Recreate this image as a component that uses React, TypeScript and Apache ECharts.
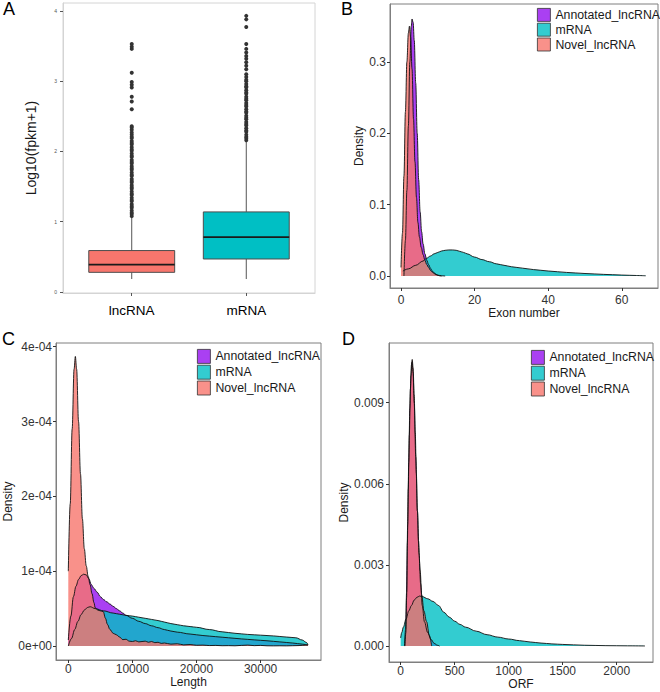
import React, { useEffect, useRef } from 'react';
import * as echarts from 'echarts';

// ---------- DATA ----------
const BOX_CATEGORIES = ['lncRNA', 'mRNA'];
// [lower whisker, Q1, median, Q3, upper whisker]
const BOX_STATS = [
  [0.185, 0.28, 0.39, 0.59, 1.07],
  [0.185, 0.47, 0.78, 1.14, 2.15],
];
const LNC_OUTLIERS = [
  1.08, 1.11, 1.13, 1.16, 1.2, 1.22, 1.25, 1.29, 1.31, 1.34, 1.38, 1.4, 1.43, 1.47, 1.49, 1.52,
  1.56, 1.58, 1.61, 1.65, 1.67, 1.7, 1.74, 1.76, 1.79, 1.83, 1.85, 1.88, 1.92, 1.94, 1.97, 2.01,
  2.03, 2.06, 2.1, 2.12, 2.15, 2.19, 2.21, 2.24, 2.27, 2.31, 2.34, 2.36,
  2.6, 2.71, 2.78, 2.91, 2.95, 2.99, 3.12, 3.46, 3.49, 3.53,
];
const MRNA_OUTLIERS = [
  2.16, 2.19, 2.21, 2.24, 2.28, 2.3, 2.33, 2.37, 2.39, 2.42, 2.46, 2.48, 2.51, 2.55, 2.57, 2.6,
  2.64, 2.66, 2.69, 2.73, 2.75, 2.78, 2.82, 2.84, 2.87, 2.91, 2.93, 2.96, 3.0, 3.02,
  3.06, 3.1, 3.17, 3.22, 3.27, 3.32, 3.36, 3.41, 3.46, 3.53, 3.77, 3.88, 3.93,
];
const A_Y_TICKS = [0, 1, 2, 3, 4];

const GROUPS = ['Annotated_lncRNA', 'mRNA', 'Novel_lncRNA'];

// Panel B: Exon number densities
const EXON_ANNOTATED = [
  [0.8, 0], [1.2, 0.05], [1.6, 0.12], [2.0, 0.21], [2.4, 0.3], [2.8, 0.35], [3.0, 0.36], [3.3, 0.355],
  [3.6, 0.33], [4.0, 0.27], [4.4, 0.2], [4.8, 0.135], [5.2, 0.09], [5.6, 0.062], [6.0, 0.045],
  [6.5, 0.031], [7.0, 0.022], [7.5, 0.016], [8.0, 0.011], [8.5, 0.007], [9.0, 0.0045], [9.5, 0.0025],
  [10, 0.0012], [11, 0.0003], [12, 0],
];
const EXON_MRNA = [
  [0.5, 0.007], [2, 0.01], [4, 0.015], [6, 0.021], [7, 0.025], [8, 0.028], [9, 0.031], [10, 0.033],
  [11, 0.035], [12, 0.036], [13, 0.0365], [14, 0.0365], [15, 0.036], [16, 0.0345], [17, 0.033],
  [18, 0.031], [20, 0.0265], [22, 0.023], [24, 0.02], [26, 0.017], [28, 0.015], [30, 0.013],
  [33, 0.011], [36, 0.009], [40, 0.007], [45, 0.005], [50, 0.0035], [55, 0.0023], [60, 0.0013],
  [64, 0.0007], [66.5, 0.0003],
];
const EXON_NOVEL = [
  [0, 0.012], [0.4, 0.06], [0.8, 0.14], [1.2, 0.23], [1.6, 0.3], [2.0, 0.34], [2.3, 0.35], [2.6, 0.335],
  [3.0, 0.29], [3.4, 0.22], [3.8, 0.16], [4.2, 0.11], [4.6, 0.075], [5.0, 0.055], [5.5, 0.04],
  [6.0, 0.03], [6.5, 0.022], [7.0, 0.016], [7.5, 0.012], [8.0, 0.008], [8.5, 0.0055], [9.0, 0.0035],
  [9.5, 0.002], [10, 0.001], [10.5, 0.0003], [11, 0],
];
const B_X_TICKS = [0, 20, 40, 60];
const B_Y_TICKS = [0, 0.1, 0.2, 0.3];

// Panel C: Length densities
const LENGTH_ANNOTATED = [
  [0, 0.08e-4], [400, 0.4e-4], [800, 0.66e-4], [1200, 0.8e-4], [1600, 0.89e-4], [2000, 0.94e-4],
  [2400, 0.96e-4], [2800, 0.95e-4], [3200, 0.9e-4], [3600, 0.82e-4], [4000, 0.77e-4], [4500, 0.72e-4],
  [5000, 0.66e-4], [5500, 0.62e-4], [6000, 0.59e-4], [6500, 0.56e-4], [7000, 0.53e-4], [7500, 0.5e-4],
  [8000, 0.47e-4], [8500, 0.44e-4], [9000, 0.41e-4], [10000, 0.37e-4], [11000, 0.33e-4],
  [12000, 0.3e-4], [13000, 0.27e-4], [14000, 0.245e-4], [15000, 0.22e-4], [16000, 0.2e-4],
  [17000, 0.185e-4], [19000, 0.16e-4], [21000, 0.14e-4], [23000, 0.125e-4], [25000, 0.11e-4],
  [27000, 0.095e-4], [29000, 0.082e-4], [31000, 0.07e-4], [33000, 0.055e-4], [35000, 0.04e-4],
  [36500, 0.025e-4], [37400, 0.01e-4],
];
const LENGTH_MRNA = [
  [0, 0], [500, 0.1e-4], [1000, 0.22e-4], [1500, 0.33e-4], [2000, 0.42e-4], [2500, 0.48e-4],
  [3000, 0.515e-4], [3400, 0.525e-4], [4200, 0.5e-4], [5500, 0.47e-4], [7000, 0.44e-4],
  [8000, 0.425e-4], [9000, 0.41e-4], [10000, 0.4e-4], [11000, 0.385e-4], [12000, 0.37e-4],
  [13000, 0.355e-4], [14000, 0.34e-4], [15000, 0.32e-4], [16000, 0.3e-4], [17000, 0.285e-4],
  [18000, 0.27e-4], [19000, 0.26e-4], [20000, 0.25e-4], [22000, 0.22e-4], [24000, 0.19e-4],
  [26000, 0.17e-4], [28000, 0.155e-4], [30000, 0.145e-4], [32000, 0.135e-4], [34000, 0.12e-4],
  [35500, 0.11e-4], [36500, 0.08e-4], [37100, 0.05e-4], [37400, 0.02e-4],
];
const LENGTH_NOVEL = [
  [0, 1.0e-4], [300, 1.9e-4], [600, 2.9e-4], [900, 3.7e-4], [1100, 3.87e-4], [1300, 3.7e-4],
  [1600, 3.0e-4], [1900, 2.3e-4], [2200, 1.7e-4], [2500, 1.3e-4], [2800, 1.07e-4], [3100, 0.93e-4],
  [3400, 0.82e-4], [3700, 0.7e-4], [4000, 0.58e-4], [4200, 0.51e-4], [4600, 0.48e-4], [5000, 0.47e-4],
  [5450, 0.46e-4], [5800, 0.37e-4], [6100, 0.29e-4], [6500, 0.22e-4], [7000, 0.17e-4],
  [7500, 0.15e-4], [8000, 0.12e-4], [8500, 0.085e-4], [9000, 0.09e-4], [9500, 0.065e-4],
  [10000, 0.06e-4], [10500, 0.07e-4], [11000, 0.055e-4], [11500, 0.06e-4], [12000, 0.065e-4],
  [12500, 0.05e-4], [13000, 0.06e-4], [13500, 0.045e-4], [14000, 0.05e-4], [14500, 0.035e-4],
  [15000, 0.04e-4], [16000, 0.025e-4], [17000, 0.03e-4], [18000, 0.015e-4], [19000, 0.02e-4],
  [20000, 0.01e-4], [21000, 0.012e-4], [22000, 0.006e-4], [23000, 0.008e-4], [24000, 0.004e-4],
  [25000, 0.005e-4], [26000, 0.003e-4], [27000, 0.008e-4], [28000, 0.012e-4], [29000, 0.005e-4],
  [30000, 0.008e-4], [31000, 0.003e-4], [32000, 0.002e-4], [33000, 0.003e-4], [34000, 0.002e-4],
  [35000, 0.004e-4], [36000, 0.006e-4], [37000, 0.012e-4], [37400, 0.02e-4],
];
const C_X_TICKS = [0, 10000, 20000, 30000];
const C_Y_TICKS = [0, 1e-4, 2e-4, 3e-4, 4e-4];
const C_Y_LABELS = ['0e+00', '1e-04', '2e-04', '3e-04', '4e-04'];

// Panel D: ORF densities
const ORF_ANNOTATED = [
  [35, 0], [45, 0.0006], [55, 0.002], [65, 0.0045], [75, 0.0068], [85, 0.0088], [95, 0.01],
  [105, 0.0105], [115, 0.0101], [125, 0.009], [140, 0.007], [155, 0.005], [170, 0.0034],
  [185, 0.0023], [200, 0.0015], [220, 0.0009], [250, 0.0005], [280, 0.00025], [310, 0.0001],
  [340, 0.00003], [360, 0],
];
const ORF_MRNA = [
  [0, 0.0003], [10, 0.0005], [25, 0.0007], [50, 0.001], [75, 0.0013], [100, 0.0015], [125, 0.0017],
  [150, 0.0018], [175, 0.00185], [200, 0.00183], [250, 0.00175], [300, 0.00165], [350, 0.0015],
  [400, 0.00125], [450, 0.00107], [500, 0.00092], [550, 0.0008], [600, 0.0007], [700, 0.00055],
  [800, 0.00042], [900, 0.00033], [1000, 0.00026], [1100, 0.0002], [1200, 0.00015], [1300, 0.00011],
  [1400, 0.00008], [1500, 0.00006], [1700, 0.00003], [1900, 0.000015], [2100, 0.000008],
  [2262, 0.000003],
];
const ORF_NOVEL = [
  [40, 0], [48, 0.0005], [55, 0.0018], [62, 0.0038], [70, 0.0058], [80, 0.0078], [90, 0.0095],
  [100, 0.0104], [107, 0.0106], [115, 0.0103], [125, 0.0093], [135, 0.0079], [145, 0.0064],
  [155, 0.005], [165, 0.0039], [180, 0.0028], [195, 0.0019], [215, 0.0013], [240, 0.0009],
  [265, 0.0004], [287, 0],
];
const D_X_TICKS = [0, 500, 1000, 1500, 2000];
const D_Y_TICKS = [0, 0.003, 0.006, 0.009];

// ---------- STYLE ----------
const FONT = '"Liberation Sans", Arial, Helvetica, sans-serif';
const FILLS = ['rgba(155,30,240,0.85)', 'rgba(0,191,196,0.8)', 'rgba(248,118,109,0.8)'];
const BOX_FILLS = ['#F8766D', '#00BFC4'];
const FRAME = '#7f7f7f';

function valueAxis(o: any) {
  return {
    type: 'value',
    gridIndex: o.grid,
    min: o.min,
    max: o.max,
    splitLine: { show: false },
    axisLine: { show: true, onZero: false, lineStyle: { color: o.frame || FRAME, width: 1 } },
    axisTick: { show: true, customValues: o.ticks, length: 3, lineStyle: { color: o.tickColor || '#333' } },
    axisLabel: {
      customValues: o.ticks,
      formatter: o.fmt,
      fontSize: o.fontSize || 12,
      color: o.labelColor || '#333',
      margin: o.margin,
      fontFamily: FONT,
    },
    name: o.name || '',
    nameLocation: 'middle',
    nameGap: o.nameGap || 20,
    nameTextStyle: { fontSize: o.nameSize || 12, color: '#1a1a1a', fontFamily: FONT },
  };
}

function densitySeries(data: number[][], gi: number, k: number) {
  return {
    type: 'line',
    name: GROUPS[k],
    xAxisIndex: gi,
    yAxisIndex: gi,
    data,
    symbol: 'none',
    showSymbol: false,
    smooth: 0.35,
    smoothMonotone: 'x',
    lineStyle: { color: '#111', width: 0.9 },
    itemStyle: { color: FILLS[k] },
    areaStyle: { color: FILLS[k], opacity: 1 },
    emphasis: { disabled: true },
  };
}

function legendAt(left: number, top: number, h: number) {
  return {
    orient: 'vertical',
    left,
    top,
    padding: 0,
    itemGap: 1,
    itemWidth: 13,
    itemHeight: h,
    icon: 'rect',
    selectedMode: false,
    textStyle: { fontSize: 12.3, color: '#1a1a1a', fontFamily: FONT },
    itemStyle: { borderColor: '#333', borderWidth: 0.8 },
    data: GROUPS.map((g, i) => ({ name: g, itemStyle: { color: FILLS[i] } })),
  };
}

function buildOption() {
  const cFmt = (v: number) => {
    let best = 0;
    C_Y_TICKS.forEach((t, i) => {
      if (Math.abs(t - v) < Math.abs(C_Y_TICKS[best] - v)) best = i;
    });
    return C_Y_LABELS[best];
  };
  return {
    animation: false,
    textStyle: { fontFamily: FONT },
    grid: [
      { left: 63, top: 3, width: 252, height: 290, show: true, borderColor: '#d4d4d4', borderWidth: 1, backgroundColor: '#fff' },
      { left: 390, top: 4, width: 268, height: 284, show: true, borderColor: FRAME, borderWidth: 1, backgroundColor: '#fff' },
      { left: 56, top: 343, width: 265, height: 317, show: true, borderColor: FRAME, borderWidth: 1, backgroundColor: '#fff' },
      { left: 389, top: 343, width: 264, height: 319, show: true, borderColor: FRAME, borderWidth: 1, backgroundColor: '#fff' },
    ],
    xAxis: [
      valueAxis({
        grid: 0, min: 0.4, max: 2.6, ticks: [1, 2], fmt: (v: number) => BOX_CATEGORIES[Math.round(v) - 1],
        fontSize: 13.5, labelColor: '#000', margin: 10, frame: '#d4d4d4', tickColor: '#555',
      }),
      valueAxis({ grid: 1, min: -2.99, max: 69.84, ticks: B_X_TICKS, fmt: (v: number) => String(v), margin: 6, name: 'Exon number', nameGap: 18 }),
      valueAxis({ grid: 2, min: -1919, max: 39423, ticks: C_X_TICKS, fmt: (v: number) => String(v), margin: 3, name: 'Length', nameGap: 15 }),
      valueAxis({ grid: 3, min: -108, max: 2336, ticks: D_X_TICKS, fmt: (v: number) => String(v), margin: 3, name: 'ORF', nameGap: 15 }),
    ],
    yAxis: [
      valueAxis({
        grid: 0, min: -0.014, max: 4.113, ticks: A_Y_TICKS, fmt: (v: number) => String(v),
        fontSize: 5, labelColor: '#555', margin: 6, frame: '#d4d4d4', tickColor: '#555',
        name: 'Log10(fpkm+1)', nameGap: 25, nameSize: 14,
      }),
      valueAxis({ grid: 1, min: -0.0168, max: 0.381, ticks: B_Y_TICKS, fmt: (v: number) => v.toFixed(1), margin: 4, name: 'Density', nameGap: 24 }),
      valueAxis({ grid: 2, min: -0.187e-4, max: 4.05e-4, ticks: C_Y_TICKS, fmt: cFmt, margin: 4, name: 'Density', nameGap: 40 }),
      valueAxis({ grid: 3, min: -0.00059, max: 0.01121, ticks: D_Y_TICKS, fmt: (v: number) => v.toFixed(3), margin: 5, name: 'Density', nameGap: 36 }),
    ],
    legend: [legendAt(537, 8, 13), legendAt(197, 349, 14), legendAt(531, 350, 14)],
    graphic: [
      { type: 'text', left: 3, top: 0, style: { text: 'A', fontSize: 18, fill: '#000', fontFamily: FONT } },
      { type: 'text', left: 341, top: 0, style: { text: 'B', fontSize: 18, fill: '#000', fontFamily: FONT } },
      { type: 'text', left: 2, top: 330, style: { text: 'C', fontSize: 18, fill: '#000', fontFamily: FONT } },
      { type: 'text', left: 342, top: 330, style: { text: 'D', fontSize: 18, fill: '#000', fontFamily: FONT } },
    ],
    series: [
      {
        type: 'custom',
        xAxisIndex: 0,
        yAxisIndex: 0,
        data: BOX_STATS.map((s, i) => [i + 1, ...s]),
        encode: { x: 0, y: [1, 2, 3, 4, 5] },
        renderItem: (params: any, api: any) => {
          const x = api.value(0);
          const pLo = api.coord([x, api.value(1)]);
          const pQ1 = api.coord([x, api.value(2)]);
          const pMed = api.coord([x, api.value(3)]);
          const pQ3 = api.coord([x, api.value(4)]);
          const pHi = api.coord([x, api.value(5)]);
          const w = api.size([0.75, 0])[0];
          const wl = { stroke: '#555', lineWidth: 1 };
          return {
            type: 'group',
            children: [
              { type: 'line', shape: { x1: pLo[0], y1: pLo[1], x2: pQ1[0], y2: pQ1[1] }, style: wl },
              { type: 'line', shape: { x1: pQ3[0], y1: pQ3[1], x2: pHi[0], y2: pHi[1] }, style: wl },
              {
                type: 'rect',
                shape: { x: pQ1[0] - w / 2, y: pQ3[1], width: w, height: pQ1[1] - pQ3[1] },
                style: { fill: BOX_FILLS[params.dataIndex], stroke: '#4d4d4d', lineWidth: 1 },
              },
              {
                type: 'line',
                shape: { x1: pMed[0] - w / 2, y1: pMed[1], x2: pMed[0] + w / 2, y2: pMed[1] },
                style: { stroke: '#1a1a1a', lineWidth: 1.8 },
              },
            ],
          };
        },
      },
      {
        type: 'scatter',
        xAxisIndex: 0,
        yAxisIndex: 0,
        symbolSize: 4,
        itemStyle: { color: '#333', opacity: 1 },
        data: [...LNC_OUTLIERS.map((v) => [1, v]), ...MRNA_OUTLIERS.map((v) => [2, v])],
      },
      densitySeries(EXON_ANNOTATED, 1, 0),
      densitySeries(EXON_MRNA, 1, 1),
      densitySeries(EXON_NOVEL, 1, 2),
      densitySeries(LENGTH_ANNOTATED, 2, 0),
      densitySeries(LENGTH_MRNA, 2, 1),
      densitySeries(LENGTH_NOVEL, 2, 2),
      densitySeries(ORF_ANNOTATED, 3, 0),
      densitySeries(ORF_MRNA, 3, 1),
      densitySeries(ORF_NOVEL, 3, 2),
    ],
  };
}

export default function App() {
  const ref = useRef<HTMLDivElement>(null);
  useEffect(() => {
    const chart = echarts.init(ref.current as HTMLDivElement, null, { renderer: 'svg' });
    chart.setOption(buildOption() as any);
    return () => chart.dispose();
  }, []);
  return <div ref={ref} style={{ position: 'absolute', left: 0, top: 0, width: 660, height: 692 }} />;
}
